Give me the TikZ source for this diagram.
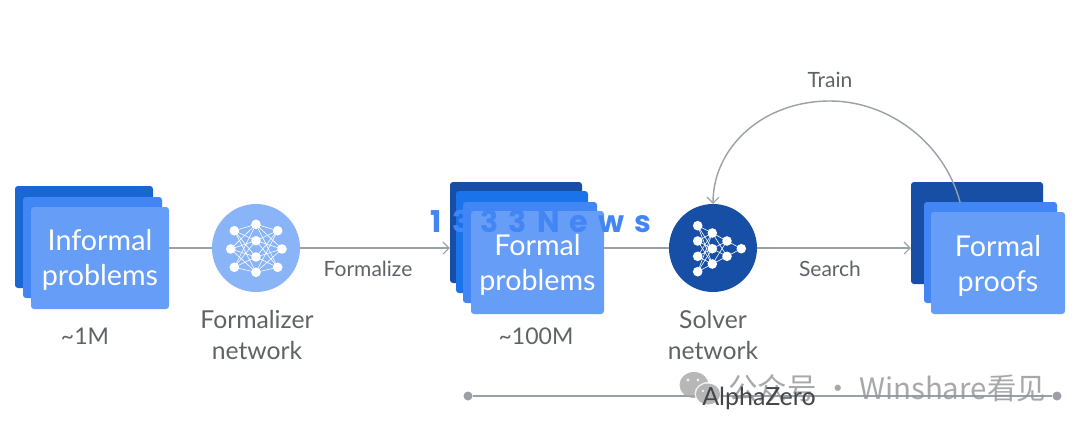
\documentclass[tikz,border=0pt]{standalone}
\usepackage{fontspec}
\setmainfont{Lato}
\newfontfamily\cjkwm{Noto Sans CJK SC}
\newfontfamily\wmfont{Poppins}
\usetikzlibrary{arrows.meta,calc}
\definecolor{cfront}{HTML}{669DF6}
\definecolor{cmid}{HTML}{4285F4}
\definecolor{cblue}{HTML}{1A73E8}
\definecolor{cinf}{HTML}{1967D2}
\definecolor{cdark}{HTML}{174EA6}
\definecolor{ccirc}{HTML}{8AB4F8}
\definecolor{ctext}{HTML}{5F6368}
\definecolor{cline}{HTML}{9AA0A6}
\tikzset{
  x=1pt,y=-1pt,
  card/.style={rectangle,rounded corners=3pt,inner sep=0pt,minimum width=#1},
  cardtext/.style={text=white,align=center,font=\fontsize{28.7}{34.5}\selectfont},
  netcircle/.style={circle,inner sep=0pt,minimum size=88pt},
  neuron/.style={circle,fill=white,inner sep=0pt,minimum size=9.6pt},
  syn/.style={white,line width=0.6pt},
  link/.style={cline,line width=1.4pt},
  arrowlink/.style={link,-{Straight Barb[length=6pt,width=12pt,line width=1.1pt]}},
  graytext/.style={text=ctext,align=center},
  biglabel/.style={graytext,font=\fontsize{24.7}{31}\selectfont},
  countlabel/.style={graytext,font=\fontsize{23}{31}\selectfont},
  smalllabel/.style={graytext,font=\fontsize{21}{25}\selectfont},
}
\begin{document}
\begin{tikzpicture}
\path[use as bounding box,fill=white] (0,0) rectangle (1080,432);

% Informal problems stack
\node[card=138pt,minimum height=102pt,fill=cinf] (i1) at (84,237) {};
\node[card=139pt,minimum height=101pt,fill=cmid] (i2) at (92.5,247.5) {};
\node[card=138pt,minimum height=102pt,fill=cfront,cardtext] (inf) at (100,258) {\raisebox{-3pt}[\height][\depth]{\begin{tabular}{@{}c@{}}Informal\\[0.5pt]problems\end{tabular}}};

% Formal problems stack
\node[card=132pt,minimum height=101pt,fill=cdark] (p1) at (516,232.5) {};
\node[card=132pt,minimum height=102pt,fill=cblue] (p2) at (522,242) {};
\node[card=134pt,minimum height=101pt,fill=cmid] (p3) at (530,252.5) {};
\node[card=133pt,minimum height=103pt,fill=cfront,cardtext] (fp) at (537.5,262.5) {\raisebox{-4pt}[\height][\depth]{\begin{tabular}{@{}c@{}}Formal\\[0.5pt]problems\end{tabular}}};

% Formal proofs stack
\node[card=132pt,minimum height=102pt,fill=cdark] (r1) at (977,233) {};
\coordinate (trainstart) at (960,202);
\draw[link] (trainstart) .. controls (944,142) and (888,101) .. (830,101);

\node[card=133pt,minimum height=101pt,fill=cmid] (r2) at (990.5,252.5) {};
\node[card=134pt,minimum height=102pt,fill=cfront,cardtext] (prf) at (998,263) {\raisebox{-4pt}[\height][\depth]{\begin{tabular}{@{}c@{}}Formal\\[0.5pt]proofs\end{tabular}}};

% Networks
\node[netcircle,fill=ccirc] (fzr) at (256,248) {};
\node[netcircle,fill=cdark] (sol) at (713,248) {};

% Connectors
\draw[link] (inf.east |- fzr.west) -- (fzr.west);
\draw[arrowlink] (fzr.east) -- (fzr.east -| p1.west);
\draw[link] (fp.east |- sol.west) -- (sol.west);
\draw[arrowlink] (sol.east) -- (sol.east -| r1.west);
\coordinate (trainmid) at (830,101);
\draw[arrowlink] (trainmid) .. controls (762,101) and (713,148) .. (sol.north);

% Formalizer network
\foreach \n/\x/\y in {a1/234.3/230.7,a2/230.7/249,a3/234.3/267.3,
                      b1/256/224.3,b2/256/240.7,b3/256/257,b4/256/272.3,
                      c1/277.7/230.7,c2/282/249,c3/277.7/267.3}
  \coordinate (\n) at (\x,\y);
\foreach \s in {a1,a2,a3,c1,c2,c3}
  \foreach \t in {b1,b2,b3,b4}
    \draw[syn] (\s) -- (\t);
\foreach \n in {a1,a2,a3,b1,b2,b3,b4,c1,c2,c3}
  \node[neuron] at (\n) {};

% Solver network
\foreach \n/\x/\y in {d1/697.7/225.7,d2/697.7/241,d3/697.7/256.3,d4/697.7/271.7,
                      e1/712.3/233,e2/712.3/248.7,e3/712.3/264,
                      g1/727/241,g2/727/256.3,h1/741.3/248.7}
  \coordinate (\n) at (\x,\y);
\foreach \s in {d1,d2,d3,d4}
  \foreach \t in {e1,e2,e3}
    \draw[syn] (\s) -- (\t);
\foreach \s in {e1,e2,e3}
  \foreach \t in {g1,g2}
    \draw[syn] (\s) -- (\t);
\draw[syn] (g1) -- (h1) (g2) -- (h1);
\foreach \n in {d1,d2,d3,d4,e1,e2,e3,g1,g2,h1}
  \node[neuron] at (\n) {};

% Labels
\node[countlabel] (l1m) at (85,336) {\textasciitilde 1M};
\node[countlabel] (l100m) at (536,336) {\textasciitilde 100M};
\node[biglabel] (lfzr) at (257,335) {Formalizer\\network};
\node[biglabel] (lsol) at (713,335) {Solver\\network};
\node[smalllabel] (lformalize) at (368,269) {Formalize};
\node[smalllabel] (lsearch) at (830,269) {Search};
\node[smalllabel] (ltrain) at (830,80) {Train};

% AlphaZero span
\node[circle,fill=cline,inner sep=0pt,minimum size=9pt] (z1) at (468,396) {};
\node[circle,fill=cline,inner sep=0pt,minimum size=9pt] (z2) at (1057,396) {};
\draw[cline,line width=1.8pt] (z1) -- (z2);

% Watermarks
\begin{scope}[opacity=0.8]
\fill[gray!70] (694,385) ellipse (14.5 and 13);
\fill[white] (708,394) ellipse (13.5 and 12);
\fill[gray!70] (708,394) ellipse (12 and 10.5);
\fill[white] (688,380) circle (1.7) (698,380) circle (1.7) (703,391) circle (1.3) (712,391) circle (1.3);
\node[text=gray!85,font={\cjkwm\fontsize{29.5}{34}\selectfont},inner sep=0pt] (wm) at (887,388) {公众号 · Winshare看见};
\end{scope}
\node[graytext,font=\fontsize{25}{30}\selectfont,text=ctext!70!black] (lalpha) at (759,398) {AlphaZero};
\node[text=cmid,font={\wmfont\bfseries\addfontfeature{LetterSpace=34}\fontsize{30}{36}\selectfont},inner sep=0pt] (news) at (541,221) {1333News};
\end{tikzpicture}
\end{document}
